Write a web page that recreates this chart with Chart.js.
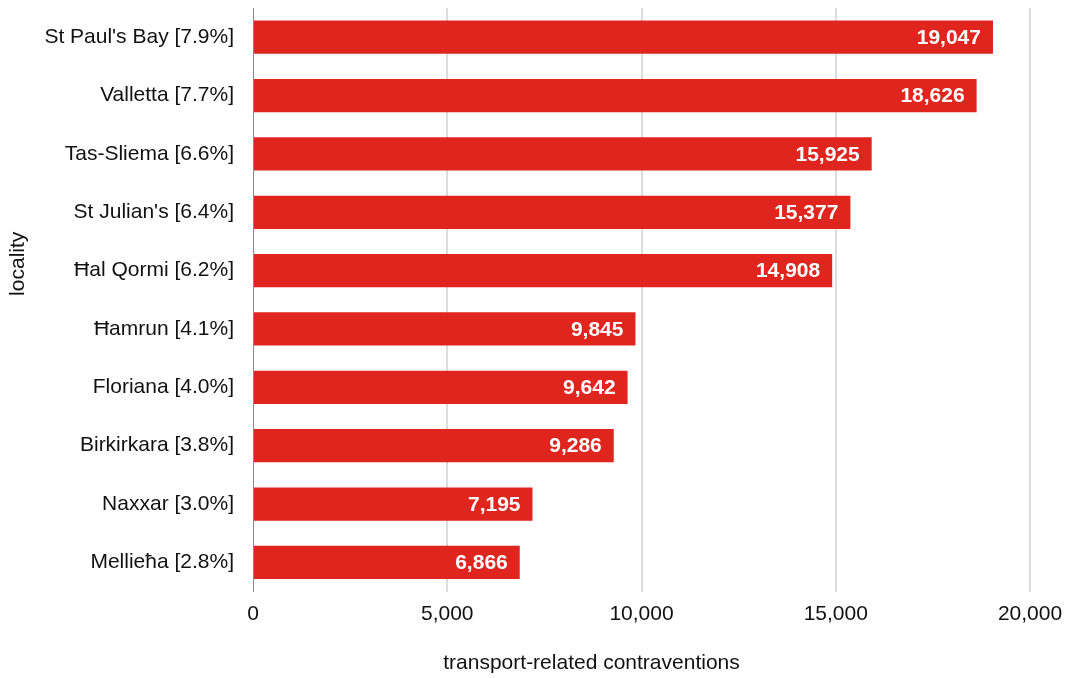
<!DOCTYPE html>
<html>
<head>
<meta charset="utf-8">
<script src="https://cdn.jsdelivr.net/npm/chart.js@4/dist/chart.umd.min.js"></script>
<style>
  html, body { margin: 0; padding: 0; background: #fff; }
  #wrap { width: 1068px; height: 678px; }
</style>
</head>
<body>
<div id="wrap"><canvas id="chart"></canvas></div>
<script>
const localities = ["St Paul's Bay [7.9%]", 'Valletta [7.7%]', 'Tas-Sliema [6.6%]', "St Julian's [6.4%]",
  'Ħal Qormi [6.2%]', 'Ħamrun [4.1%]', 'Floriana [4.0%]', 'Birkirkara [3.8%]', 'Naxxar [3.0%]', 'Mellieħa [2.8%]'];
const contraventions = [19047, 18626, 15925, 15377, 14908, 9845, 9642, 9286, 7195, 6866];
const xTicks = [0, 5000, 10000, 15000, 20000];
const xTitle = 'transport-related contraventions';
const yTitle = 'locality';

const FONT = 'Liberation Sans, Arial, sans-serif';

// white value labels at the end of each bar
const barValues = {
  id: 'barValues',
  afterDatasetsDraw(chart) {
    const ctx = chart.ctx;
    const meta = chart.getDatasetMeta(0);
    ctx.save();
    ctx.font = 'bold 21px ' + FONT;
    ctx.fillStyle = '#fff';
    ctx.textAlign = 'right';
    ctx.textBaseline = 'middle';
    meta.data.forEach((bar, i) => {
      ctx.fillText(contraventions[i].toLocaleString('en-US'), bar.x - 12, bar.y + 1);
    });
    ctx.restore();
  }
};

// axis titles sit a bit off-centre in the original, so draw them here
const axisTitles = {
  id: 'axisTitles',
  afterDraw(chart) {
    const ctx = chart.ctx;
    const area = chart.chartArea;
    ctx.save();
    ctx.font = '21px ' + FONT;
    ctx.fillStyle = '#111';
    ctx.textAlign = 'center';
    ctx.textBaseline = 'middle';
    ctx.fillText(xTitle, (area.left + area.right) / 2 - 50, 663);
    ctx.translate(18, (area.top + area.bottom) / 2 - 36);
    ctx.rotate(-Math.PI / 2);
    ctx.fillText(yTitle, 0, 0);
    ctx.restore();
  }
};

const ctx = document.getElementById('chart').getContext('2d');
new Chart(ctx, {
  type: 'bar',
  data: {
    labels: localities,
    datasets: [{
      data: contraventions,
      backgroundColor: '#e0251f',
      barPercentage: 0.57,
      categoryPercentage: 1
    }]
  },
  options: {
    indexAxis: 'y',
    responsive: true,
    maintainAspectRatio: false,
    animation: false,
    layout: { padding: { top: 8, right: 38, bottom: 1, left: 0 } },
    plugins: {
      legend: { display: false },
      tooltip: { enabled: false }
    },
    scales: {
      x: {
        min: 0,
        max: 20000,
        afterBuildTicks: axis => { axis.ticks = xTicks.map(v => ({ value: v })); },
        afterFit: s => { s.paddingLeft = 0; s.paddingRight = 0; },
        grid: {
          color: c => c.index === 0 ? 'rgba(0,0,0,0)' : '#dcdcdc',
          lineWidth: 2,
          drawTicks: false
        },
        border: { display: false },
        ticks: {
          color: '#111',
          padding: 10,
          font: { size: 21, family: FONT },
          callback: v => v.toLocaleString('en-US')
        },
        // keeps the room for the title, which axisTitles draws
        title: {
          display: true,
          text: xTitle,
          color: 'rgba(0,0,0,0)',
          padding: { top: 15, bottom: 0 },
          font: { size: 21, family: FONT }
        }
      },
      y: {
        afterFit: s => { s.paddingTop = 0; s.paddingBottom = 0; s.width = 253; },
        grid: { display: false, drawTicks: false },
        border: { display: true, color: '#888', width: 1 },
        ticks: {
          color: '#111',
          padding: 19,
          font: { size: 21, family: FONT }
        },
        title: { display: false }
      }
    }
  },
  plugins: [barValues, axisTitles]
});
</script>
</body>
</html>
